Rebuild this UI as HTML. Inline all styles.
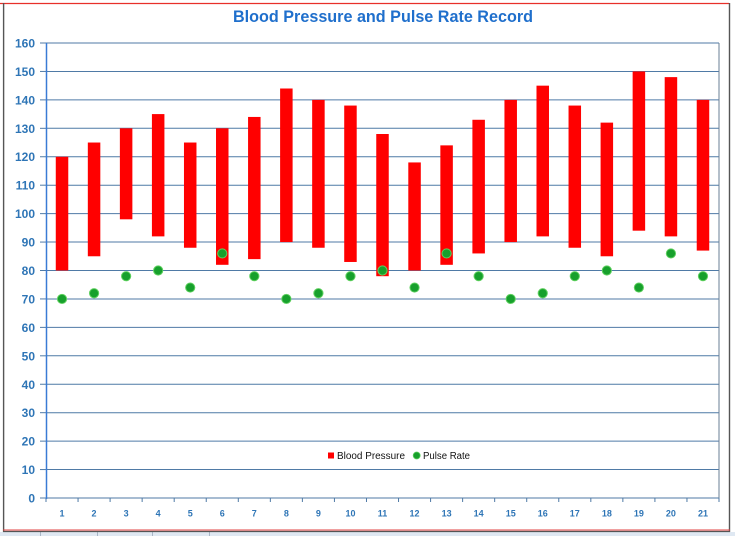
<!DOCTYPE html>
<html>
<head>
<meta charset="utf-8">
<style>
  html,body{margin:0;padding:0;background:#ffffff;}
  body{width:735px;height:536px;overflow:hidden;position:relative;}
  svg{position:absolute;left:0;top:0;}
</style>
</head>
<body>
<svg width="735" height="536" viewBox="0 0 735 536" xmlns="http://www.w3.org/2000/svg">
  <!-- outer background -->
  <rect x="0" y="0" width="735" height="536" fill="#ffffff"/>
  <!-- spreadsheet strip at bottom -->
  <rect x="0" y="532" width="735" height="4" fill="#dfe8f2"/>
  <g stroke="#a9b6c6" stroke-width="1">
    <line x1="40.5" y1="532" x2="40.5" y2="536"/>
    <line x1="97.5" y1="532" x2="97.5" y2="536"/>
    <line x1="152.5" y1="532" x2="152.5" y2="536"/>
    <line x1="209.5" y1="532" x2="209.5" y2="536"/>
  </g>
  <!-- chart frame -->
  <rect x="3.5" y="3.5" width="725.5" height="527.5" fill="#ffffff" stroke="none"/>
  <line x1="0" y1="3.5" x2="729" y2="3.5" stroke="#e8302a" stroke-width="1.2"/>
  <line x1="3.6" y1="3" x2="3.6" y2="532" stroke="#555555" stroke-width="1.4"/>
  <line x1="729.5" y1="3" x2="729.5" y2="532" stroke="#555555" stroke-width="1.4"/>
  <line x1="3" y1="530" x2="730" y2="530" stroke="#e04040" stroke-width="1"/>
  <line x1="3" y1="531.5" x2="730" y2="531.5" stroke="#555555" stroke-width="1.2"/>

  <!-- title -->
  <text x="383" y="22" font-family="Liberation Sans, sans-serif" font-size="17" font-weight="bold" fill="#1f6fcc" text-anchor="middle" textLength="300" lengthAdjust="spacingAndGlyphs">Blood Pressure and Pulse Rate Record</text>

  <!-- gridlines -->
  <g stroke="#4f7aa6" stroke-width="1">
    <line x1="46" y1="43" x2="719" y2="43"/>
    <line x1="46" y1="71.44" x2="719" y2="71.44"/>
    <line x1="46" y1="99.88" x2="719" y2="99.88"/>
    <line x1="46" y1="128.31" x2="719" y2="128.31"/>
    <line x1="46" y1="156.75" x2="719" y2="156.75"/>
    <line x1="46" y1="185.19" x2="719" y2="185.19"/>
    <line x1="46" y1="213.63" x2="719" y2="213.63"/>
    <line x1="46" y1="242.06" x2="719" y2="242.06"/>
    <line x1="46" y1="270.5" x2="719" y2="270.5"/>
    <line x1="46" y1="298.94" x2="719" y2="298.94"/>
    <line x1="46" y1="327.38" x2="719" y2="327.38"/>
    <line x1="46" y1="355.81" x2="719" y2="355.81"/>
    <line x1="46" y1="384.25" x2="719" y2="384.25"/>
    <line x1="46" y1="412.69" x2="719" y2="412.69"/>
    <line x1="46" y1="441.13" x2="719" y2="441.13"/>
    <line x1="46" y1="469.56" x2="719" y2="469.56"/>
    <line x1="46" y1="498" x2="719" y2="498"/>
  </g>
  <!-- y ticks -->
  <g stroke="#4f7aa6" stroke-width="1">
    <line x1="40" y1="43" x2="46" y2="43"/>
    <line x1="40" y1="71.44" x2="46" y2="71.44"/>
    <line x1="40" y1="99.88" x2="46" y2="99.88"/>
    <line x1="40" y1="128.31" x2="46" y2="128.31"/>
    <line x1="40" y1="156.75" x2="46" y2="156.75"/>
    <line x1="40" y1="185.19" x2="46" y2="185.19"/>
    <line x1="40" y1="213.63" x2="46" y2="213.63"/>
    <line x1="40" y1="242.06" x2="46" y2="242.06"/>
    <line x1="40" y1="270.5" x2="46" y2="270.5"/>
    <line x1="40" y1="298.94" x2="46" y2="298.94"/>
    <line x1="40" y1="327.38" x2="46" y2="327.38"/>
    <line x1="40" y1="355.81" x2="46" y2="355.81"/>
    <line x1="40" y1="384.25" x2="46" y2="384.25"/>
    <line x1="40" y1="412.69" x2="46" y2="412.69"/>
    <line x1="40" y1="441.13" x2="46" y2="441.13"/>
    <line x1="40" y1="469.56" x2="46" y2="469.56"/>
    <line x1="40" y1="498" x2="46" y2="498"/>
  </g>
  <!-- x ticks -->
  <g stroke="#4f7aa6" stroke-width="1">
    <line x1="46" y1="498" x2="46" y2="502"/>
    <line x1="78.05" y1="498" x2="78.05" y2="502"/>
    <line x1="110.1" y1="498" x2="110.1" y2="502"/>
    <line x1="142.14" y1="498" x2="142.14" y2="502"/>
    <line x1="174.19" y1="498" x2="174.19" y2="502"/>
    <line x1="206.24" y1="498" x2="206.24" y2="502"/>
    <line x1="238.29" y1="498" x2="238.29" y2="502"/>
    <line x1="270.34" y1="498" x2="270.34" y2="502"/>
    <line x1="302.38" y1="498" x2="302.38" y2="502"/>
    <line x1="334.43" y1="498" x2="334.43" y2="502"/>
    <line x1="366.48" y1="498" x2="366.48" y2="502"/>
    <line x1="398.53" y1="498" x2="398.53" y2="502"/>
    <line x1="430.58" y1="498" x2="430.58" y2="502"/>
    <line x1="462.62" y1="498" x2="462.62" y2="502"/>
    <line x1="494.67" y1="498" x2="494.67" y2="502"/>
    <line x1="526.72" y1="498" x2="526.72" y2="502"/>
    <line x1="558.77" y1="498" x2="558.77" y2="502"/>
    <line x1="590.82" y1="498" x2="590.82" y2="502"/>
    <line x1="622.86" y1="498" x2="622.86" y2="502"/>
    <line x1="654.91" y1="498" x2="654.91" y2="502"/>
    <line x1="686.96" y1="498" x2="686.96" y2="502"/>
    <line x1="719" y1="498" x2="719" y2="502"/>
  </g>
  <!-- plot right border -->
  <line x1="719" y1="43" x2="719" y2="498" stroke="#6a7f96" stroke-width="1"/>
  <!-- y axis line -->
  <line x1="46.5" y1="43" x2="46.5" y2="499" stroke="#3a7bd5" stroke-width="1.5"/>

  <!-- y labels -->
  <g font-family="Liberation Sans, sans-serif" font-size="12" font-weight="bold" fill="#2e75b6" text-anchor="end">
    <text x="35" y="47.5">160</text>
    <text x="35" y="75.9">150</text>
    <text x="35" y="104.4">140</text>
    <text x="35" y="132.8">130</text>
    <text x="35" y="161.2">120</text>
    <text x="35" y="189.7">110</text>
    <text x="35" y="218.1">100</text>
    <text x="35" y="246.6">90</text>
    <text x="35" y="275">80</text>
    <text x="35" y="303.4">70</text>
    <text x="35" y="331.9">60</text>
    <text x="35" y="360.3">50</text>
    <text x="35" y="388.8">40</text>
    <text x="35" y="417.2">30</text>
    <text x="35" y="445.6">20</text>
    <text x="35" y="474.1">10</text>
    <text x="35" y="502.5">0</text>
  </g>

  <!-- x labels -->
  <g font-family="Liberation Sans, sans-serif" font-size="9" font-weight="bold" fill="#2e75b6" text-anchor="middle">
    <text x="62.02" y="516.5">1</text>
    <text x="94.07" y="516.5">2</text>
    <text x="126.12" y="516.5">3</text>
    <text x="158.17" y="516.5">4</text>
    <text x="190.22" y="516.5">5</text>
    <text x="222.26" y="516.5">6</text>
    <text x="254.31" y="516.5">7</text>
    <text x="286.36" y="516.5">8</text>
    <text x="318.41" y="516.5">9</text>
    <text x="350.46" y="516.5">10</text>
    <text x="382.5" y="516.5">11</text>
    <text x="414.55" y="516.5">12</text>
    <text x="446.6" y="516.5">13</text>
    <text x="478.65" y="516.5">14</text>
    <text x="510.7" y="516.5">15</text>
    <text x="542.74" y="516.5">16</text>
    <text x="574.79" y="516.5">17</text>
    <text x="606.84" y="516.5">18</text>
    <text x="638.89" y="516.5">19</text>
    <text x="670.94" y="516.5">20</text>
    <text x="702.98" y="516.5">21</text>
  </g>

  <!-- blood pressure bars -->
  <g fill="#ff0000">
    <rect x="55.77" y="156.75" width="12.5" height="113.75"/>
    <rect x="87.82" y="142.53" width="12.5" height="113.75"/>
    <rect x="119.87" y="128.31" width="12.5" height="91"/>
    <rect x="151.92" y="114.09" width="12.5" height="122.29"/>
    <rect x="183.97" y="142.53" width="12.5" height="105.22"/>
    <rect x="216.01" y="128.31" width="12.5" height="136.5"/>
    <rect x="248.06" y="116.94" width="12.5" height="142.19"/>
    <rect x="280.11" y="88.5" width="12.5" height="153.56"/>
    <rect x="312.16" y="99.88" width="12.5" height="147.87"/>
    <rect x="344.21" y="105.56" width="12.5" height="156.41"/>
    <rect x="376.25" y="134" width="12.5" height="142.19"/>
    <rect x="408.3" y="162.44" width="12.5" height="108.06"/>
    <rect x="440.35" y="145.37" width="12.5" height="119.44"/>
    <rect x="472.4" y="119.78" width="12.5" height="133.66"/>
    <rect x="504.45" y="99.88" width="12.5" height="142.18"/>
    <rect x="536.49" y="85.66" width="12.5" height="150.72"/>
    <rect x="568.54" y="105.56" width="12.5" height="142.19"/>
    <rect x="600.59" y="122.62" width="12.5" height="133.66"/>
    <rect x="632.64" y="71.44" width="12.5" height="159.25"/>
    <rect x="664.69" y="77.12" width="12.5" height="159.26"/>
    <rect x="696.73" y="99.88" width="12.5" height="150.71"/>
  </g>

  <!-- pulse rate dots -->
  <g fill="#17a02c" stroke="#5fd05f" stroke-width="1">
    <circle cx="62.02" cy="298.94" r="4.6"/>
    <circle cx="94.07" cy="293.25" r="4.6"/>
    <circle cx="126.12" cy="276.19" r="4.6"/>
    <circle cx="158.17" cy="270.5" r="4.6"/>
    <circle cx="190.22" cy="287.56" r="4.6"/>
    <circle cx="222.26" cy="253.44" r="4.6"/>
    <circle cx="254.31" cy="276.19" r="4.6"/>
    <circle cx="286.36" cy="298.94" r="4.6"/>
    <circle cx="318.41" cy="293.25" r="4.6"/>
    <circle cx="350.46" cy="276.19" r="4.6"/>
    <circle cx="382.5" cy="270.5" r="4.6"/>
    <circle cx="414.55" cy="287.56" r="4.6"/>
    <circle cx="446.6" cy="253.44" r="4.6"/>
    <circle cx="478.65" cy="276.19" r="4.6"/>
    <circle cx="510.7" cy="298.94" r="4.6"/>
    <circle cx="542.74" cy="293.25" r="4.6"/>
    <circle cx="574.79" cy="276.19" r="4.6"/>
    <circle cx="606.84" cy="270.5" r="4.6"/>
    <circle cx="638.89" cy="287.56" r="4.6"/>
    <circle cx="670.94" cy="253.44" r="4.6"/>
    <circle cx="702.98" cy="276.19" r="4.6"/>
  </g>

  <!-- legend -->
  <rect x="328" y="452.5" width="6" height="6" fill="#ff0000"/>
  <text x="337" y="459" font-family="Liberation Sans, sans-serif" font-size="10" fill="#111111" textLength="68" lengthAdjust="spacingAndGlyphs">Blood Pressure</text>
  <circle cx="416.7" cy="455.5" r="3.5" fill="#17a02c" stroke="#5fd05f" stroke-width="0.8"/>
  <text x="423" y="459" font-family="Liberation Sans, sans-serif" font-size="10" fill="#111111" textLength="47" lengthAdjust="spacingAndGlyphs">Pulse Rate</text>
</svg>
</body>
</html>
